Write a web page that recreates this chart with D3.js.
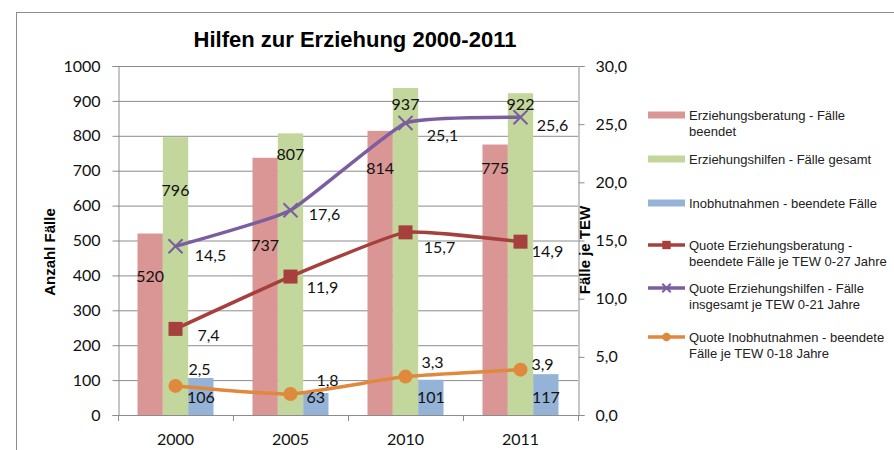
<!DOCTYPE html>
<html>
<head>
<meta charset="utf-8">
<script src="https://cdn.jsdelivr.net/npm/d3@7"></script>
<style>
  body { margin: 0; background: #fff; }
  svg { display: block; }
</style>
</head>
<body>
<svg id="chart"></svg>
<script>
// Daten
const jahre = ["2000", "2005", "2010", "2011"];
const beratung = [520, 737, 814, 775];
const hilfen = [796, 807, 937, 922];
const inobhut = [106, 63, 101, 117];
const quoteBeratung = [7.4, 11.9, 15.7, 14.9];
const quoteHilfen = [14.5, 17.6, 25.1, 25.6];
const quoteInobhut = [2.5, 1.8, 3.3, 3.9];
const linksTicks = [0, 100, 200, 300, 400, 500, 600, 700, 800, 900, 1000];
const rechtsTicks = [0, 5, 10, 15, 20, 25, 30];

// Farben
const barFarben = ["#d99694", "#c3d69b", "#95b3d7"];
const linienFarben = ["#a5403d", "#7b5ea0", "#e0883c"];

const width = 894, height = 450;
const svg = d3.select("#chart").attr("width", width).attr("height", height);

// Rahmen
svg.append("rect")
  .attr("x", 16.5).attr("y", 12.5)
  .attr("width", 1000).attr("height", 600)
  .attr("fill", "none").attr("stroke", "#8c8c8c");

// Skalen
const plot = { left: 118, right: 578, top: 66, bottom: 415 };
const x = d3.scaleBand().domain(jahre).range([plot.left, plot.right]);
const xInner = d3.scaleBand().domain([0, 1, 2]).range([0, 76]);
const yL = d3.scaleLinear().domain([0, 1000]).range([plot.bottom, plot.top]);
const yR = d3.scaleLinear().domain([0, 30]).range([plot.bottom, plot.top]);
const fmt = d => d.toFixed(1).replace(".", ",");

// Gitterlinien
svg.append("g").selectAll("line").data(linksTicks.slice(1)).join("line")
  .attr("x1", plot.left).attr("x2", plot.right)
  .attr("y1", d => yL(d) + 0.5).attr("y2", d => yL(d) + 0.5)
  .attr("stroke", "#8c8c8c");

// Balken
const barSerien = [beratung, hilfen, inobhut];
barSerien.forEach((serie, s) => {
  svg.append("g").selectAll("rect").data(serie).join("rect")
    .attr("x", (d, i) => x(jahre[i]) + (x.bandwidth() - 76) / 2 + xInner(s))
    .attr("y", d => yL(d))
    .attr("width", xInner.bandwidth())
    .attr("height", d => yL(0) - yL(d))
    .attr("fill", barFarben[s]);
});

// Achsen
const axL = svg.append("g").attr("transform", `translate(${plot.left + 0.5},0)`)
  .call(d3.axisLeft(yL).tickValues(linksTicks).tickSize(6).tickPadding(12).tickFormat(d => String(d)));
const axR = svg.append("g").attr("transform", `translate(${plot.right + 0.5},0)`)
  .call(d3.axisRight(yR).tickValues(rechtsTicks).tickSize(6).tickPadding(11).tickFormat(fmt));
const axX = svg.append("g").attr("transform", `translate(0,${plot.bottom + 0.5})`)
  .call(d3.axisBottom(x).tickSize(0).tickPadding(18));
[axL, axR, axX].forEach(ax => {
  ax.select(".domain").attr("stroke", "#8c8c8c");
  ax.selectAll(".tick line").attr("stroke", "#8c8c8c");
  ax.selectAll("text").attr("font-family", "Lato, sans-serif").attr("font-size", 16).attr("fill", "#111");
});
axX.select(".domain").attr("d", `M${plot.left},0H${plot.right}`);
// Kategorie-Trennstriche
svg.append("g").selectAll("line")
  .data(jahre.map(j => x(j)).concat([plot.right])).join("line")
  .attr("x1", d => Math.round(d) + 0.5).attr("x2", d => Math.round(d) + 0.5)
  .attr("y1", plot.bottom).attr("y2", plot.bottom + 6)
  .attr("stroke", "#8c8c8c");

// Linien
const cx = (d, i) => x(jahre[i]) + x.bandwidth() / 2;
const linienSerien = [quoteBeratung, quoteHilfen, quoteInobhut];
const linie = d3.line().x(cx).y(d => yR(d)).curve(d3.curveCardinal.tension(0.6));
linienSerien.forEach((serie, s) => {
  svg.append("path").datum(serie)
    .attr("d", linie).attr("fill", "none")
    .attr("stroke", linienFarben[s]).attr("stroke-width", 3.5)
    .attr("stroke-linecap", "round");
});

function marker(g, s, px, py, scale) {
  const r = 7 * scale;
  if (s === 0) {
    g.append("rect").attr("x", px - r).attr("y", py - r)
      .attr("width", 2 * r).attr("height", 2 * r).attr("fill", linienFarben[0]);
  } else if (s === 1) {
    g.append("path")
      .attr("d", `M${px - r},${py - r}L${px + r},${py + r}M${px - r},${py + r}L${px + r},${py - r}`)
      .attr("stroke", linienFarben[1]).attr("stroke-width", 2);
  } else {
    g.append("circle").attr("cx", px).attr("cy", py).attr("r", r).attr("fill", linienFarben[2]);
  }
}
linienSerien.forEach((serie, s) => {
  const g = svg.append("g");
  serie.forEach((d, i) => marker(g, s, cx(d, i), yR(d), 1));
});

// Datenbeschriftungen (Verschiebung in px wie im Original)
const balkenLabelDy = [[43, 88, 37, 24], [53, 21, 16, 11]];
const linienLabelShift = [
  [[33, 6], [32, 11], [34, 15], [27, 10]],
  [[35, 9], [34, 4], [37, 12], [32, 8]],
  [[24, -17], [37, -14], [27, -14], [22, -5]]
];
const labels = svg.append("g")
  .attr("font-family", "Lato, sans-serif").attr("font-size", 16)
  .attr("fill", "#111").attr("text-anchor", "middle");
barSerien.forEach((serie, s) => {
  serie.forEach((d, i) => {
    const bx = x(jahre[i]) + (x.bandwidth() - 76) / 2 + xInner(s) + xInner.bandwidth() / 2;
    const by = s < 2 ? yL(d) + balkenLabelDy[s][i] : yL(0) - 18;
    labels.append("text").attr("x", bx).attr("y", by).attr("dy", "0.35em").text(d);
  });
});
linienSerien.forEach((serie, s) => {
  serie.forEach((d, i) => {
    const [dx, dy] = linienLabelShift[s][i];
    labels.append("text").attr("x", cx(d, i) + dx).attr("y", yR(d) + dy)
      .attr("dy", "0.35em").text(fmt(d));
  });
});

// Titel
svg.append("text").attr("x", 355).attr("y", 47).attr("text-anchor", "middle")
  .attr("font-family", "Liberation Sans, Arial, sans-serif").attr("font-weight", "bold")
  .attr("font-size", 22).attr("fill", "#000").text("Hilfen zur Erziehung 2000-2011");

svg.append("text").attr("transform", "translate(55,252) rotate(-90)")
  .attr("text-anchor", "middle").attr("font-family", "Liberation Sans, Arial, sans-serif")
  .attr("font-weight", "bold").attr("font-size", 15).text("Anzahl Fälle");
svg.append("text").attr("transform", "translate(590,250) rotate(-90)")
  .attr("text-anchor", "middle").attr("font-family", "Liberation Sans, Arial, sans-serif")
  .attr("font-weight", "bold").attr("font-size", 15).text("Fälle je TEW");

// Legende
const legendeTexte = [
  ["Erziehungsberatung - Fälle", "beendet"],
  ["Erziehungshilfen - Fälle gesamt"],
  ["Inobhutnahmen - beendete Fälle"],
  ["Quote Erziehungsberatung -", "beendete Fälle je TEW 0-27 Jahre"],
  ["Quote Erziehungshilfen - Fälle", "insgesamt je TEW 0-21 Jahre"],
  ["Quote Inobhutnahmen - beendete", "Fälle je TEW 0-18 Jahre"]
];
const legendeY = [115, 159, 203, 245, 288, 337];
const leg = svg.append("g");
legendeTexte.forEach((zeilen, k) => {
  const ly = legendeY[k];
  if (k < 3) {
    leg.append("rect").attr("x", 648).attr("y", ly - 3.5).attr("width", 37).attr("height", 7)
      .attr("fill", barFarben[k]);
  } else {
    const s = k - 3;
    leg.append("line").attr("x1", 648).attr("x2", 685).attr("y1", ly).attr("y2", ly)
      .attr("stroke", linienFarben[s]).attr("stroke-width", 3.5);
    marker(leg, s, 666.5, ly, 0.6);
  }
  const t = leg.append("text").attr("x", 689).attr("y", ly).attr("dy", "0.35em")
    .attr("font-family", "Liberation Sans, Arial, sans-serif").attr("font-size", 13)
    .attr("fill", "#222");
  zeilen.forEach((z, j) => {
    t.append("tspan").attr("x", 689).attr("dy", j === 0 ? "0.35em" : 16).text(z);
  });
});
</script>
</body>
</html>
